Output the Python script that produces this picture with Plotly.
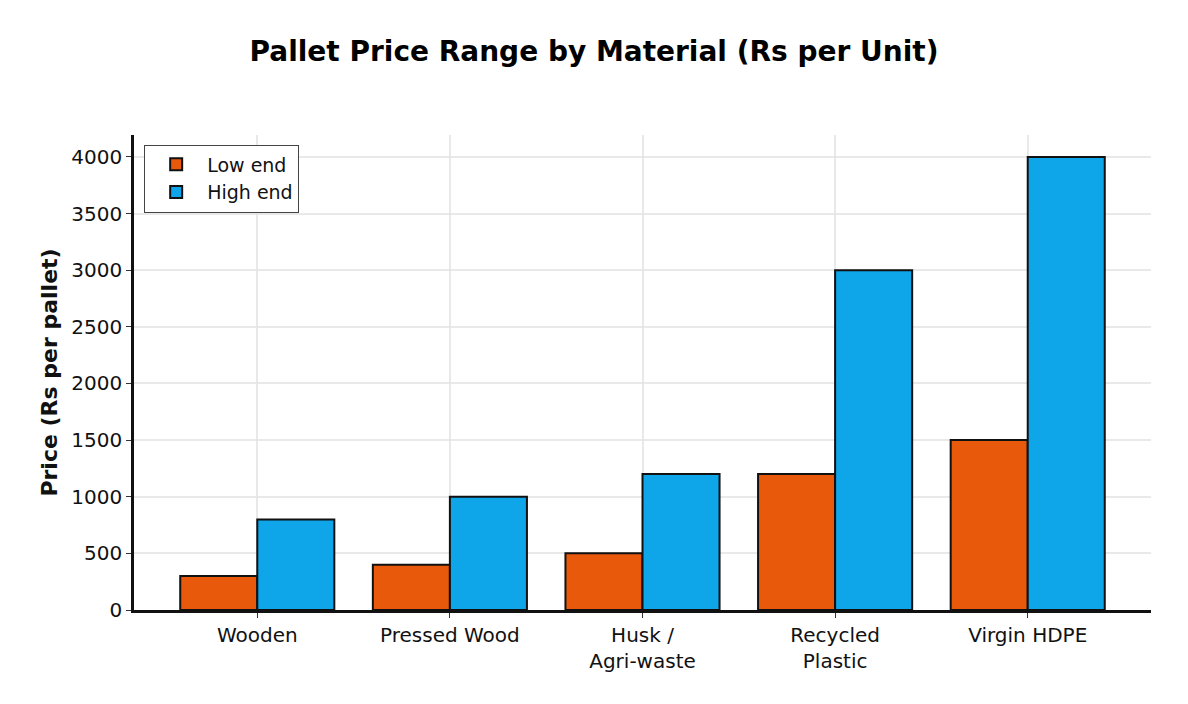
import plotly.graph_objects as go

categories = ["Wooden", "Pressed Wood", "Husk /<br>Agri-waste", "Recycled<br>Plastic", "Virgin HDPE"]
low_end = [300, 400, 500, 1200, 1500]
high_end = [800, 1000, 1200, 3000, 4000]
y_ticks = [0, 500, 1000, 1500, 2000, 2500, 3000, 3500, 4000]

FONT = "DejaVu Sans"
fig = go.Figure()
fig.add_trace(go.Bar(x=categories, y=low_end, name="Low end",
                     marker=dict(color="#E8590C", line=dict(color="#111111", width=2))))
fig.add_trace(go.Bar(x=categories, y=high_end, name="High end",
                     marker=dict(color="#0EA5E9", line=dict(color="#111111", width=2))))

fig.update_layout(
    width=1188, height=704,
    margin=dict(l=134, r=37, t=135, b=94),
    paper_bgcolor="white", plot_bgcolor="white",
    font=dict(family=FONT, size=20, color="#111111"),
    title=dict(text="<b>Pallet Price Range by Material (Rs per Unit)</b>",
               x=0.5, xanchor="center", y=0.927, yanchor="middle",
               font=dict(size=28, family=FONT, color="#000000")),
    barmode="group", bargap=0.2, bargroupgap=0,
    legend=dict(x=0.01, y=0.98, xanchor="left", yanchor="top",
                bordercolor="#444444", borderwidth=1, bgcolor="white",
                font=dict(size=19, family=FONT), tracegroupgap=0, itemwidth=52),
    xaxis=dict(range=[-0.64, 4.64], showline=True, linecolor="#111111", linewidth=2.5,
               ticks="outside", ticklen=5, tickcolor="#333333", showgrid=True,
               gridcolor="rgba(225,225,225,0.75)", gridwidth=1.5, layer="above traces",
               tickfont=dict(size=20, family=FONT)),
    yaxis=dict(range=[0, 4194], tickvals=y_ticks, showline=True, linecolor="#111111", linewidth=2.5,
               ticks="outside", ticklen=5, tickcolor="#333333", showgrid=True,
               gridcolor="rgba(225,225,225,0.75)", gridwidth=1.5, layer="above traces",
               zeroline=False,
               title=dict(text="<b>Price (Rs per pallet)</b>", font=dict(size=22, family=FONT), standoff=8),
               tickfont=dict(size=20, family=FONT)),
)

fig.write_html("out.html")
